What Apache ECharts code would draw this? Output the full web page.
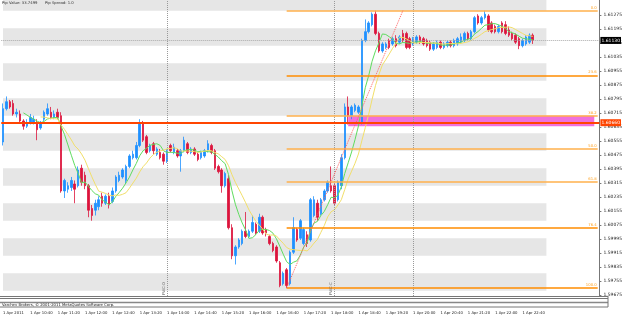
<!DOCTYPE html>
<html>
<head>
<meta charset="utf-8">
<script src="https://cdn.jsdelivr.net/npm/echarts@6/dist/echarts.min.js"></script>
<style>
  html, body { margin: 0; padding: 0; background: #fff; }
  #chart { width: 625px; height: 316px; }
</style>
</head>
<body>
<div id="chart"></div>
<script>
// GBPUSD M5, 1 Apr 2011, bars from 10:00, rows are [open, close, low, high]
const ohlc = [
  [1.6055,1.6074,1.6053,1.6077],[1.6074,1.6078,1.6073,1.6081],[1.6078,1.6075,1.6074,1.6079],[1.6077,1.6071,1.6070,1.6079],
  [1.6071,1.6072,1.6069,1.6074],[1.6071,1.6067,1.6066,1.6073],[1.6067,1.6064,1.6062,1.6068],[1.6064,1.6066,1.6063,1.6068],
  [1.6066,1.6069,1.6065,1.6071],[1.6066,1.6068,1.6065,1.6070],[1.6066,1.6062,1.6056,1.6068],[1.6063,1.6066,1.6062,1.6067],
  [1.6068,1.6072,1.6067,1.6073],[1.6071,1.6074,1.6070,1.6077],[1.6072,1.6069,1.6068,1.6075],[1.6069,1.6071,1.6068,1.6073],
  [1.6072,1.6069,1.6068,1.6074],[1.6070,1.6027,1.6026,1.6072],[1.6027,1.6033,1.6023,1.6034],[1.6028,1.6030,1.6026,1.6032],
  [1.6029,1.6033,1.6027,1.6035],[1.6031,1.6028,1.6020,1.6033],[1.6030,1.6039,1.6029,1.6041],[1.6040,1.6032,1.6030,1.6042],
  [1.6036,1.6030,1.6028,1.6038],[1.6030,1.6016,1.6012,1.6031],[1.6017,1.6013,1.6010,1.6019],[1.6016,1.6020,1.6013,1.6022],
  [1.6018,1.6022,1.6016,1.6024],[1.6024,1.6020,1.6018,1.6026],[1.6020,1.6024,1.6019,1.6025],[1.6024,1.6019,1.6017,1.6026],
  [1.6021,1.6027,1.6020,1.6029],[1.6027,1.6035,1.6026,1.6036],[1.6033,1.6036,1.6032,1.6038],[1.6035,1.6039,1.6034,1.6040],
  [1.6033,1.6041,1.6031,1.6042],[1.6041,1.6047,1.6040,1.6048],[1.6046,1.6048,1.6045,1.6050],[1.6046,1.6053,1.6045,1.6055],
  [1.6053,1.6066,1.6052,1.6068],[1.6066,1.6056,1.6055,1.6067],[1.6058,1.6049,1.6048,1.6059],[1.6050,1.6053,1.6049,1.6054],
  [1.6054,1.6050,1.6048,1.6055],[1.6048,1.6051,1.6047,1.6052],[1.6049,1.6046,1.6045,1.6051],[1.6048,1.6044,1.6042,1.6049],
  [1.6044,1.6050,1.6043,1.6051],[1.6053,1.6050,1.6049,1.6054],[1.6049,1.6052,1.6048,1.6054],[1.6050,1.6047,1.6046,1.6051],
  [1.6047,1.6050,1.6038,1.6051],[1.6050,1.6056,1.6049,1.6058],[1.6054,1.6049,1.6048,1.6055],[1.6049,1.6051,1.6048,1.6052],
  [1.6051,1.6048,1.6047,1.6052],[1.6048,1.6045,1.6044,1.6049],[1.6046,1.6049,1.6045,1.6050],[1.6047,1.6050,1.6046,1.6051],
  [1.6050,1.6054,1.6049,1.6056],[1.6053,1.6049,1.6048,1.6054],[1.6050,1.6040,1.6039,1.6051],[1.6041,1.6038,1.6037,1.6042],
  [1.6039,1.6030,1.6026,1.6040],[1.6030,1.6037,1.6029,1.6038],[1.6034,1.6006,1.6005,1.6036],[1.6006,1.5990,1.5988,1.6008],
  [1.5990,1.5995,1.5985,1.5996],[1.5995,1.5999,1.5994,1.6000],[1.5997,1.6004,1.5996,1.6005],[1.6004,1.6001,1.6000,1.6015],
  [1.6001,1.6004,1.6000,1.6005],[1.6004,1.6009,1.6003,1.6013],[1.6008,1.6003,1.6002,1.6009],[1.6004,1.6012,1.6003,1.6014],
  [1.6012,1.6003,1.6002,1.6013],[1.6005,1.6003,1.6001,1.6006],[1.6001,1.5997,1.5996,1.6002],[1.5997,1.5993,1.5992,1.5998],
  [1.5995,1.5987,1.5986,1.5996],[1.5986,1.5973,1.5972,1.5987],[1.5974,1.5980,1.5973,1.5981],[1.5982,1.5973,1.59715,1.5983],
  [1.5974,1.5992,1.5973,1.5993],[1.5992,1.6006,1.5991,1.6012],[1.6005,1.5999,1.5998,1.6006],[1.6000,1.6010,1.5999,1.6011],
  [1.5997,1.6005,1.5996,1.6006],[1.6002,1.5997,1.5995,1.6004],[1.5999,1.6022,1.5998,1.6023],[1.6013,1.6022,1.6012,1.6024],
  [1.6020,1.6012,1.6010,1.6022],[1.6014,1.6022,1.6013,1.6023],[1.6022,1.6027,1.6021,1.6028],[1.6027,1.6032,1.6026,1.6033],
  [1.6030,1.6027,1.6026,1.6041],[1.6030,1.6020,1.6019,1.6031],[1.6022,1.6032,1.6021,1.6033],[1.6030,1.6046,1.6028,1.6048],
  [1.6046,1.6075,1.6045,1.6077],[1.6075,1.6070,1.6065,1.6081],[1.6070,1.6075,1.6068,1.6076],[1.6073,1.6076,1.6072,1.6077],
  [1.6072,1.6075,1.6071,1.6076],[1.6066,1.6113,1.6065,1.6114],[1.6113,1.6118,1.6112,1.6125],[1.6118,1.6123,1.6117,1.6124],
  [1.6122,1.6128,1.6121,1.6129],[1.6128,1.6117,1.6116,1.6130],[1.6117,1.6107,1.6106,1.6118],[1.6107,1.6111,1.6106,1.6112],
  [1.6109,1.6111,1.6108,1.6112],[1.6113,1.6109,1.6108,1.6114],[1.6111,1.6114,1.6110,1.6115],[1.6114,1.6110,1.6109,1.6116],
  [1.6112,1.6115,1.6111,1.6116],[1.6117,1.6113,1.6112,1.6119],[1.6117,1.6109,1.6108,1.6118],[1.6114,1.6109,1.6108,1.6115],
  [1.6111,1.6114,1.6110,1.6115],[1.6112,1.6115,1.6111,1.6116],[1.6115,1.6112,1.6111,1.6116],[1.6114,1.6111,1.6110,1.6115],
  [1.6113,1.6110,1.6109,1.6114],[1.6112,1.6108,1.6107,1.6113],[1.6108,1.6111,1.6107,1.6112],[1.6109,1.6112,1.6108,1.6113],
  [1.6112,1.6109,1.6108,1.6113],[1.6109,1.6111,1.6108,1.6112],[1.6110,1.6112,1.6109,1.6113],[1.6112,1.6110,1.6109,1.6113],
  [1.6110,1.6113,1.6109,1.6114],[1.6111,1.6114,1.6110,1.6115],[1.6112,1.6115,1.6111,1.6117],[1.6113,1.6117,1.6112,1.6118],
  [1.6117,1.6114,1.6113,1.6118],[1.6114,1.6118,1.6113,1.6119],[1.6118,1.6126,1.6117,1.6127],[1.6127,1.6123,1.6122,1.6128],
  [1.6123,1.6126,1.6122,1.6127],[1.6126,1.6128,1.6125,1.6130],[1.6127,1.6119,1.6118,1.6128],[1.6123,1.6118,1.6117,1.6124],
  [1.6121,1.6118,1.6117,1.6122],[1.6118,1.6121,1.6117,1.6122],[1.6123,1.6118,1.6117,1.6124],[1.6122,1.6117,1.6116,1.6124],
  [1.6119,1.6116,1.6115,1.6121],[1.6117,1.6114,1.6113,1.6118],[1.6116,1.6112,1.6111,1.6117],[1.6114,1.6110,1.6108,1.6115],
  [1.6110,1.6113,1.6109,1.6114],[1.6111,1.6115,1.6110,1.6116],[1.6112,1.6116,1.6111,1.6117],[1.6116,1.6113,1.6111,1.6117]
]

// time axis labels, one every 8 bars (40 min)
const timeLabels = [
  '1 Apr 2011', '1 Apr 10:40', '1 Apr 11:20', '1 Apr 12:00', '1 Apr 12:40', '1 Apr 13:20', '1 Apr 14:00',
  '1 Apr 14:40', '1 Apr 15:20', '1 Apr 16:00', '1 Apr 16:40', '1 Apr 17:20', '1 Apr 18:00', '1 Apr 18:40',
  '1 Apr 19:20', '1 Apr 20:00', '1 Apr 20:40', '1 Apr 21:20', '1 Apr 22:00', '1 Apr 22:40'
]

// price scale labels
const priceTicks = [
  1.61275, 1.61195, 1.61115, 1.61035, 1.60955, 1.60875, 1.60795, 1.60715, 1.60635, 1.60555, 1.60475,
  1.60395, 1.60315, 1.60235, 1.60155, 1.60075, 1.59995, 1.59915, 1.59835, 1.59755, 1.59675
]

// fibonacci retracement drawn from the 16:55 low to the 19:00 high
const fibNames = ['0.0', '23.6', '38.2', '50.0', '61.8', '76.4', '100.0']
const fibLevels = [1.6130, 1.6093, 1.6070, 1.6051, 1.6032, 1.6006, 1.59715]
const fibStart = 83
const fibTrend = [[83, 1.59715], [117, 1.6130]]

// grey 10 pip zones [top, bottom]
const zones = [
  [1.61361, 1.6130], [1.6120, 1.6110], [1.6100, 1.6090], [1.6080, 1.6070], [1.6060, 1.6050],
  [1.6040, 1.6030], [1.6020, 1.6010], [1.6000, 1.5990], [1.5980, 1.5970]
]

// magenta zone and the orange-red level
const pinkZone = [101, 173, 1.6070, 1.6064]
const redLevel = 1.6066
const bidPrice = 1.6113

// session lines
const sessionLines = [[48, 'FWC-O'], [97, 'FWC-C'], [120, '']]

const totalSlots = 175 // chart shift space on the right
const categories = []
for (let i = 0; i < totalSlots; i++) {
  const m = 600 + i * 5
  categories.push(String(Math.floor(m / 60) % 24).padStart(2, '0') + ':' + String(m % 60).padStart(2, '0'))
}

// moving averages on close
function movingAverage(period) {
  return ohlc.map((row, i) => {
    if (i < period - 1) return '-'
    let s = 0
    for (let k = i - period + 1; k <= i; k++) s += ohlc[k][1]
    return +(s / period).toFixed(5)
  })
}

const FONT = 'DejaVu Sans'
const tiny = { fontFamily: FONT, fontSize: 4.5 }
const small = { fontFamily: FONT, fontSize: 3.8 }
const orange = '#ff9f1a'

const fibLines = fibLevels.map((lv, i) => [
  {
    coord: [fibStart, lv],
    lineStyle: { color: (i === 1 || i === 5 || i === 6) ? '#ff8c00' : '#ffb04d', width: 1.5, type: 'solid' },
    label: { show: true, position: 'insideEndTop', formatter: fibNames[i], color: orange, distance: 1, ...small }
  },
  { coord: [totalSlots - 1, lv] }
])

const chart = echarts.init(document.getElementById('chart'))
chart.setOption({
  animation: false,
  backgroundColor: '#fff',
  grid: { left: 0, right: 17, top: 0, bottom: 20 },
  xAxis: {
    type: 'category',
    data: categories,
    boundaryGap: true,
    axisLine: { show: false },
    axisTick: { show: false },
    splitLine: { show: false },
    axisLabel: {
      interval: (i) => i % 8 === 0 && i / 8 < timeLabels.length,
      formatter: (v, i) => timeLabels[i / 8] || '',
      align: 'left',
      margin: 15,
      color: '#222',
      ...small
    }
  },
  yAxis: {
    type: 'value',
    position: 'right',
    min: 1.5967,
    max: 1.61361,
    splitLine: { show: false },
    axisLine: { show: true, lineStyle: { color: '#777', width: 1 } },
    axisTick: { show: true, length: 2, customValues: priceTicks, lineStyle: { color: '#777' } },
    axisLabel: {
      customValues: priceTicks,
      formatter: (v) => v.toFixed(5),
      margin: 4,
      color: '#222',
      ...tiny
    }
  },
  series: [
    {
      name: 'GBPUSD,M5',
      type: 'candlestick',
      data: ohlc,
      barWidth: 2,
      itemStyle: { color: '#1e90ff', color0: '#dc143c', borderColor: '#1e90ff', borderColor0: '#dc143c', borderWidth: 0.8 },
      markArea: {
        silent: true,
        data: zones.map(z => [
          { xAxis: 0, yAxis: z[0], itemStyle: { color: '#e6e6e6' } },
          { xAxis: 159, yAxis: z[1] }
        ]).concat([[
          { coord: [pinkZone[0], pinkZone[2]], itemStyle: { color: '#f070dc' } },
          { coord: [pinkZone[1], pinkZone[3]] }
        ]])
      },
      markLine: {
        silent: true,
        precision: 5,
        symbol: ['none', 'none'],
        data: [
          ...sessionLines.map(s => ({
            xAxis: s[0],
            lineStyle: { color: '#999', type: 'dotted', width: 1 },
            label: { show: !!s[1], position: 'insideStartTop', formatter: s[1], color: '#555', distance: 1, ...small }
          })),
          ...fibLines,
          [
            { coord: fibTrend[0], lineStyle: { color: '#ff6060', type: 'dotted', width: 1 }, label: { show: false } },
            { coord: fibTrend[1] }
          ]
        ]
      }
    },
    {
      name: 'MA 7',
      type: 'line',
      data: movingAverage(7),
      symbol: 'none',
      lineStyle: { color: '#5fdc5f', width: 1 },
      z: 3
    },
    {
      name: 'MA 12',
      type: 'line',
      data: movingAverage(12),
      symbol: 'none',
      lineStyle: { color: '#f2df6a', width: 1 },
      z: 3,
      markLine: {
        silent: true,
        precision: 5,
        symbol: ['none', 'none'],
        data: [
          {
            yAxis: bidPrice,
            lineStyle: { color: '#aaa', type: 'dotted', width: 1 },
            label: { position: 'end', formatter: bidPrice.toFixed(5), backgroundColor: '#000', color: '#fff', padding: [1, 1], distance: 1, ...tiny }
          },
          {
            yAxis: redLevel,
            lineStyle: { color: '#ff4500', type: 'solid', width: 2 },
            label: { position: 'end', formatter: redLevel.toFixed(5), backgroundColor: '#ff4500', color: '#fff', padding: [1, 1], distance: 1, ...tiny }
          }
        ]
      }
    }
  ],
  graphic: [
    { type: 'text', z: 100, left: 2, top: 1, style: { text: 'Pip Value: 33.7499', fill: '#333', font: '3.8px "DejaVu Sans"' } },
    { type: 'text', z: 100, left: 45, top: 1, style: { text: 'Pip Spread: 1.0', fill: '#333', font: '3.8px "DejaVu Sans"' } },
    { type: 'line', z: 100, shape: { x1: 0, y1: 296.5, x2: 608, y2: 296.5 }, style: { stroke: '#777', lineWidth: 1 } },
    { type: 'line', z: 100, shape: { x1: 0, y1: 298.5, x2: 608, y2: 298.5 }, style: { stroke: '#777', lineWidth: 1 } },
    { type: 'line', z: 100, shape: { x1: 0, y1: 302.5, x2: 608, y2: 302.5 }, style: { stroke: '#888', lineWidth: 1.5 } },
    { type: 'line', z: 100, shape: { x1: 0, y1: 307, x2: 608, y2: 307 }, style: { stroke: '#777', lineWidth: 1 } },
    { type: 'line', z: 100, shape: { x1: 608, y1: 296, x2: 608, y2: 307 }, style: { stroke: '#777', lineWidth: 1 } },
    { type: 'text', z: 100, left: 2, top: 303, style: { text: 'Varchev Brokers, \u00a9 2001-2011 MetaQuotes Software Corp.', fill: '#222', font: '3.8px "DejaVu Sans"' } }
  ]
})
</script>
</body>
</html>
